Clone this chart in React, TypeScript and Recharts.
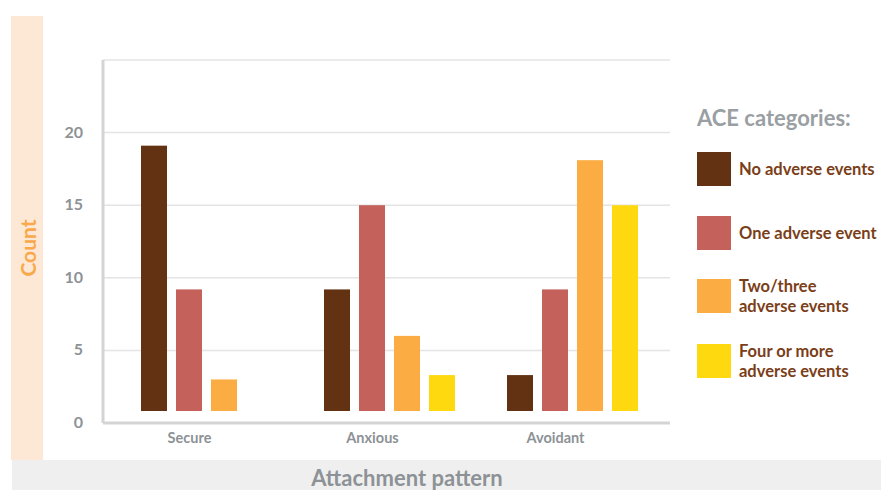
import React from 'react';
import { BarChart, Bar, XAxis, YAxis, CartesianGrid } from 'recharts';

const patterns = ['Secure', 'Anxious', 'Avoidant'];
const noAdverse = [19.1, 9.2, 3.3];
const oneAdverse = [9.2, 15, 9.2];
const twoThree = [3, 6, 18.1];
const fourPlus = [null, 3.3, 15];
const countTicks = [0, 5, 10, 15, 20, 25];

const seriesKeys = ['none', 'one', 'twoThree', 'fourPlus'];
const seriesNames = ['No adverse events', 'One adverse event', 'Two/three adverse events', 'Four or more adverse events'];
const seriesColors = ['#623212', '#c3615a', '#fbac43', '#fed90f'];
const legendLines = [['No adverse events'], ['One adverse event'], ['Two/three', 'adverse events'], ['Four or more', 'adverse events']];

const data = patterns.map((pattern, i) => ({
  pattern,
  none: noAdverse[i],
  one: oneAdverse[i],
  twoThree: twoThree[i],
  fourPlus: fourPlus[i],
}));

const FONT = 'Lato, "Noto Sans", sans-serif';
const GREY_TEXT = '#8d9296';

// bars stop a little short of the baseline
const TrimmedBar = (props: any) => {
  const { x, y, width, height, fill } = props;
  const h = height - 12;
  if (!(h > 0)) return null;
  return <rect x={x} y={y} width={width} height={h} fill={fill} />;
};

const CountTick = (props: any) => {
  const { x, y, payload } = props;
  if (payload.value === 25) return null;
  return (
    <text x={x} y={y} dy={5} textAnchor="end" fill={GREY_TEXT} fontSize={16} fontWeight={700} fontFamily={FONT}>
      {payload.value}
    </text>
  );
};

const PatternTick = (props: any) => {
  const { x, y, payload } = props;
  return (
    <text x={x - 17} y={y} dy={12} textAnchor="middle" fill={GREY_TEXT} fontSize={14.5} fontWeight={700} fontFamily={FONT}>
      {payload.value}
    </text>
  );
};

const legendTops = [152, 216, 279, 344];

export default function App() {
  return (
    <div style={{ position: 'absolute', left: 0, top: 0, width: 881, height: 490, background: '#fff', fontFamily: FONT }}>
      <div style={{ position: 'absolute', left: 11, top: 16, width: 32, height: 444, background: '#fde8d5' }} />
      <div style={{ position: 'absolute', left: 12, top: 460, width: 869, height: 30, background: '#efefef' }} />
      <div
        style={{
          position: 'absolute', left: 27, top: 248, transform: 'translate(-50%, -50%) rotate(-90deg)',
          color: '#f9a94b', fontSize: 21, fontWeight: 700, whiteSpace: 'nowrap',
        }}
      >
        Count
      </div>
      <div
        style={{
          position: 'absolute', left: 407, top: 477, transform: 'translate(-50%, -50%)',
          color: GREY_TEXT, fontSize: 22, fontWeight: 700, whiteSpace: 'nowrap',
        }}
      >
        Attachment pattern
      </div>

      <div style={{ position: 'absolute', left: 0, top: 0 }}>
        <BarChart width={881} height={490} data={data} margin={{ top: 60, right: 211, bottom: 37, left: 0 }} barSize={26} barGap={9}>
          <CartesianGrid vertical={false} stroke="#e4e4e4" strokeWidth={1.5} />
          <XAxis
            dataKey="pattern"
            height={30}
            padding={{ left: 12, right: 6 }}
            tickLine={false}
            tickSize={6}
            tickMargin={2}
            axisLine={{ stroke: '#d4d4d4', strokeWidth: 3 }}
            tick={<PatternTick />}
          />
          <YAxis
            width={103}
            domain={[0, 25]}
            ticks={countTicks}
            interval={0}
            tickLine={false}
            tickSize={8}
            tickMargin={12}
            axisLine={{ stroke: '#d4d4d4', strokeWidth: 3 }}
            tick={<CountTick />}
          />
          {seriesKeys.map((key, i) => (
            <Bar key={key} dataKey={key} name={seriesNames[i]} fill={seriesColors[i]} shape={<TrimmedBar />} isAnimationActive={false} />
          ))}
        </BarChart>
      </div>

      <div style={{ position: 'absolute', left: 697, top: 104, color: '#9a9fa3', fontSize: 22, fontWeight: 700, whiteSpace: 'nowrap' }}>
        ACE categories:
      </div>
      {legendLines.map((lines, i) => (
        <div key={i} style={{ position: 'absolute', left: 697, top: legendTops[i], height: 34, display: 'flex', alignItems: 'center' }}>
          <div style={{ width: 34, height: 34, background: seriesColors[i] }} />
          <div style={{ marginLeft: 8, color: '#7a3e18', fontSize: 16.5, fontWeight: 700, lineHeight: '20px', whiteSpace: 'nowrap' }}>
            {lines.map((line, j) => (
              <div key={j}>{line}</div>
            ))}
          </div>
        </div>
      ))}
    </div>
  );
}
